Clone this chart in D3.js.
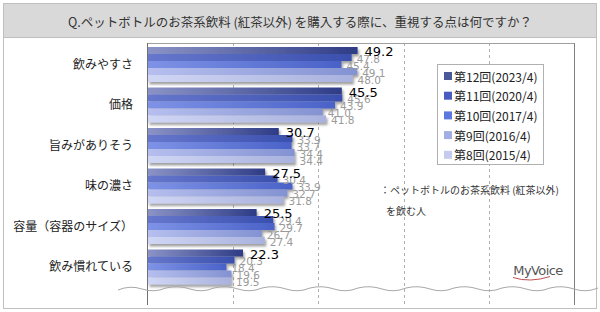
<!DOCTYPE html>
<html>
<head>
<meta charset="utf-8">
<script src="https://cdn.jsdelivr.net/npm/d3@7"></script>
<style>
  body { margin: 0; background: #fff; }
  svg { display: block; font-family: "Noto Sans CJK JP", sans-serif; }
</style>
</head>
<body>
<div id="chart"></div>
<script>
const categories = ['飲みやすさ', '価格', '旨みがありそう', '味の濃さ', '容量（容器のサイズ）', '飲み慣れている'];
const seriesNames = ['第12回(2023/4)', '第11回(2020/4)', '第10回(2017/4)', '第9回(2016/4)', '第8回(2015/4)'];
const v2023 = [49.2, 45.5, 30.7, 27.5, 25.5, 22.3];
const v2020 = [47.8, 45.6, 33.9, 30.4, 29.4, 20.3];
const v2017 = [45.4, 43.9, 33.7, 33.9, 29.7, 18.4];
const v2016 = [49.1, 41.0, 34.4, 32.7, 26.7, 19.6];
const v2015 = [48.0, 41.8, 34.4, 31.8, 27.4, 19.5];
const gridTicks = [20, 40, 60, 80];

const seriesValues = [v2023, v2020, v2017, v2016, v2015];
const gradStops = [
  ['#8b93c6', '#2e3c86'],
  ['#6677cc', '#3a4fae'],
  ['#7e93e6', '#4a62c8'],
  ['#b6bfee', '#8392d2'],
  ['#d0d6f4', '#a9b2de']
];
const legendColors = ['#4a5a98', '#4a5cc0', '#5b78e0', '#a0aee4', '#c4cbee'];

const width = 600, height = 312;
const svg = d3.select('#chart')
  .append('svg')
  .attr('width', width)
  .attr('height', height);

const defs = svg.append('defs');
gradStops.forEach((s, i) => {
  const g = defs.append('linearGradient')
    .attr('id', `grad${i}`)
    .attr('x1', '0%').attr('x2', '100%')
    .attr('y1', '0%').attr('y2', '0%');
  g.append('stop').attr('offset', '0%').attr('stop-color', s[0]);
  g.append('stop').attr('offset', '100%').attr('stop-color', s[1]);
});
const shadow = defs.append('filter')
  .attr('id', 'shadow')
  .attr('x', '-5%').attr('y', '-20%')
  .attr('width', '115%').attr('height', '150%');
shadow.append('feDropShadow')
  .attr('dx', 1.5).attr('dy', 2.5)
  .attr('stdDeviation', 1.2)
  .attr('flood-color', '#555')
  .attr('flood-opacity', 0.55);

// outer frame + title bar
svg.append('rect')
  .attr('x', 3.5).attr('y', 3.5)
  .attr('width', 593).attr('height', 305)
  .attr('fill', '#fff')
  .attr('stroke', '#bfbfbf');
svg.append('rect')
  .attr('x', 3.5).attr('y', 3.5)
  .attr('width', 593).attr('height', 34)
  .attr('fill', '#d9d9d9')
  .attr('stroke', '#bfbfbf');
svg.append('text')
  .attr('x', 300).attr('y', 21)
  .attr('text-anchor', 'middle')
  .attr('dominant-baseline', 'central')
  .attr('font-size', 12.5)
  .attr('fill', '#333')
  .text('Q.ペットボトルのお茶系飲料 (紅茶以外) を購入する際に、重視する点は何ですか？');

const x = d3.scaleLinear().domain([0, 100]).range([148, 574]);
const y = d3.scaleBand().domain(categories).range([43, 286]);
const ySub = d3.scaleBand().domain(d3.range(seriesNames.length)).range([4, 39]);

const plotTop = 43, plotBottom = 305;

// grid
svg.append('g')
  .selectAll('line')
  .data(gridTicks)
  .join('line')
  .attr('x1', d => Math.round(x(d)) + 0.5)
  .attr('x2', d => Math.round(x(d)) + 0.5)
  .attr('y1', plotTop).attr('y2', plotBottom)
  .attr('stroke', '#b0b0b0')
  .attr('stroke-dasharray', '3,3');

svg.append('line')
  .attr('x1', 147.5).attr('x2', 574.5)
  .attr('y1', plotTop + 0.5).attr('y2', plotTop + 0.5)
  .attr('stroke', '#a0a0a0');
svg.append('line')
  .attr('x1', 574.5).attr('x2', 574.5)
  .attr('y1', plotTop).attr('y2', plotBottom)
  .attr('stroke', '#808080');

// bars
const groups = svg.append('g')
  .selectAll('g')
  .data(categories)
  .join('g')
  .attr('transform', d => `translate(0,${y(d)})`)
  .attr('filter', 'url(#shadow)');

groups.selectAll('rect')
  .data((c, ci) => seriesValues.map((vals, si) => ({ si, v: vals[ci] })))
  .join('rect')
  .attr('x', x(0))
  .attr('y', d => ySub(d.si))
  .attr('width', d => x(d.v) - x(0))
  .attr('height', ySub.bandwidth())
  .attr('fill', d => `url(#grad${d.si})`);

// value labels
const labels = svg.append('g')
  .selectAll('g')
  .data(categories)
  .join('g')
  .attr('transform', d => `translate(0,${y(d)})`);

labels.selectAll('text')
  .data((c, ci) => seriesValues.map((vals, si) => ({ si, v: vals[ci] })).reverse())
  .join('text')
  .attr('x', d => x(d.v) + (d.si === 0 ? 7 : 5))
  .attr('y', d => ySub(d.si) + ySub.bandwidth() / 2 + 1)
  .attr('dominant-baseline', 'central')
  .attr('font-family', 'DejaVu Sans, sans-serif')
  .attr('font-size', d => d.si === 0 ? 13 : 10.5)
  .attr('fill', d => d.si === 0 ? '#000' : '#9a9a9a')
  .text(d => d.v.toFixed(1));

// category axis
svg.append('line')
  .attr('x1', 147.5).attr('x2', 147.5)
  .attr('y1', plotTop).attr('y2', plotBottom)
  .attr('stroke', '#707070');

svg.append('g')
  .selectAll('text')
  .data(categories)
  .join('text')
  .attr('x', 133)
  .attr('y', d => y(d) + y.bandwidth() / 2)
  .attr('text-anchor', 'end')
  .attr('dominant-baseline', 'central')
  .attr('font-size', 12)
  .attr('fill', '#222')
  .text(d => d);

// wavy cut line
const wave = d3.path();
wave.moveTo(118, 290);
for (let i = 0; i < 10; i++) {
  const x0 = 118 + i * 48;
  wave.quadraticCurveTo(x0 + 12, 285, x0 + 24, 289);
  wave.quadraticCurveTo(x0 + 36, 293, x0 + 48, 288);
}
svg.append('path')
  .attr('d', wave.toString())
  .attr('fill', 'none')
  .attr('stroke', '#a8a8a8')
  .attr('stroke-width', 1);

// legend
const legend = svg.append('g').attr('transform', 'translate(437,64)');
legend.append('rect')
  .attr('x', 0.5).attr('y', 0.5)
  .attr('width', 106).attr('height', 100)
  .attr('fill', '#fff')
  .attr('stroke', '#b0b0b0');
const items = legend.selectAll('g.item')
  .data(seriesNames)
  .join('g')
  .attr('class', 'item')
  .attr('transform', (d, i) => `translate(7,${12 + i * 19.7})`);
items.append('rect')
  .attr('x', 0).attr('y', -4)
  .attr('width', 8).attr('height', 8)
  .attr('fill', (d, i) => legendColors[i]);
items.append('text')
  .attr('x', 10).attr('y', 0)
  .attr('dominant-baseline', 'central')
  .attr('font-size', 12)
  .attr('fill', '#222')
  .text(d => d);

// base note
svg.append('text')
  .attr('x', 380).attr('y', 189)
  .attr('dominant-baseline', 'central')
  .attr('font-size', 10)
  .attr('fill', '#333')
  .text('：ペットボトルのお茶系飲料 (紅茶以外)');
svg.append('text')
  .attr('x', 386).attr('y', 210)
  .attr('dominant-baseline', 'central')
  .attr('font-size', 10)
  .attr('fill', '#333')
  .text('を飲む人');

// logo
svg.append('text')
  .attr('x', 538).attr('y', 270)
  .attr('text-anchor', 'middle')
  .attr('dominant-baseline', 'central')
  .attr('font-family', 'DejaVu Sans, sans-serif')
  .attr('font-size', 13)
  .attr('letter-spacing', -0.6)
  .attr('fill', '#555')
  .text('MyVoice');
svg.append('path')
  .attr('d', 'M513,277.5 Q530,283 550,276.5')
  .attr('fill', 'none')
  .attr('stroke', '#c0504d')
  .attr('stroke-width', 1);
</script>
</body>
</html>
